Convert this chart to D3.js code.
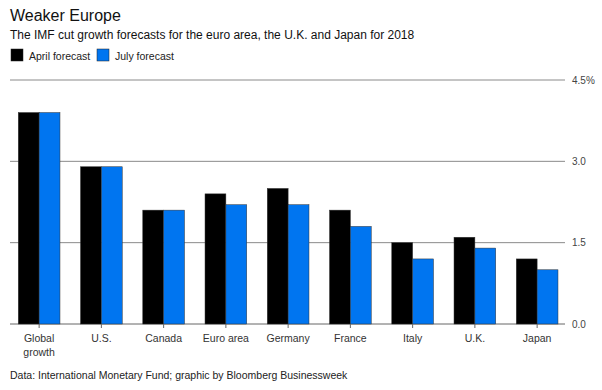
<!DOCTYPE html>
<html>
<head>
<meta charset="utf-8">
<script src="https://cdn.jsdelivr.net/npm/d3@7"></script>
<style>
  html, body { margin: 0; padding: 0; background: #fff; }
  svg { display: block; font-family: "Liberation Sans", Arial, Helvetica, sans-serif; }
</style>
</head>
<body>
<svg id="chart" width="602" height="390"></svg>
<script>
const categories = ["Global\ngrowth", "U.S.", "Canada", "Euro area", "Germany", "France", "Italy", "U.K.", "Japan"];
const seriesNames = ["April forecast", "July forecast"];
const aprilForecast = [3.9, 2.9, 2.1, 2.4, 2.5, 2.1, 1.5, 1.6, 1.2];
const julyForecast  = [3.9, 2.9, 2.1, 2.2, 2.2, 1.8, 1.2, 1.4, 1.0];
const yTicks = [0, 1.5, 3.0, 4.5];
const yTickLabels = ["0.0", "1.5", "3.0", "4.5%"];
const colors = ["#000000", "#0075f0"];

const svg = d3.select("#chart");

// Titles
svg.append("text").attr("x", 10).attr("y", 21).attr("font-size", 16).attr("fill", "#111").text("Weaker Europe");
svg.append("text").attr("x", 10).attr("y", 38.5).attr("font-size", 12).attr("fill", "#111")
  .text("The IMF cut growth forecasts for the euro area, the U.K. and Japan for 2018");

// Legend
const legendX = [11, 97];
seriesNames.forEach((name, i) => {
  svg.append("rect").attr("x", legendX[i]).attr("y", 49).attr("width", 12).attr("height", 12)
    .attr("fill", colors[i]).attr("stroke", "#222").attr("stroke-width", 0.5);
  svg.append("text").attr("x", legendX[i] + 18).attr("y", 59.5).attr("font-size", 10.5).attr("fill", "#222").text(name);
});

// Scales
const x = d3.scaleBand().domain(categories).range([8, 568.25]).paddingInner(0.33).paddingOuter(0.165);
const xs = d3.scaleBand().domain([0, 1]).range([0, x.bandwidth()]);
const y = d3.scaleLinear().domain([0, 4.5]).range([324, 80]);

// Gridlines
const gridLeft = 10, gridRight = 565;
svg.append("g").selectAll("line").data(yTicks).join("line")
  .attr("x1", gridLeft).attr("x2", gridRight)
  .attr("y1", d => y(d)).attr("y2", d => y(d))
  .attr("stroke", d => d === 0 ? "#666" : "#8a8a8a").attr("stroke-width", 1);

// Y labels
svg.append("g").selectAll("text").data(yTicks).join("text")
  .attr("x", 572).attr("y", d => y(d)).attr("dy", "0.35em")
  .attr("font-size", 10).attr("fill", "#444")
  .text((d, i) => yTickLabels[i]);

// Bars
const series = [aprilForecast, julyForecast];
series.forEach((vals, s) => {
  svg.append("g").selectAll("rect").data(vals).join("rect")
    .attr("x", (d, i) => x(categories[i]) + xs(s))
    .attr("width", xs.bandwidth())
    .attr("y", d => y(d))
    .attr("height", d => y(0) - y(d))
    .attr("fill", colors[s])
    .attr("stroke", "#333").attr("stroke-width", 0.5);
});

// X ticks and labels
const xAxis = svg.append("g");
categories.forEach(c => {
  const cx = x(c) + x.bandwidth() / 2;
  xAxis.append("line").attr("x1", cx).attr("x2", cx).attr("y1", 324).attr("y2", 328)
    .attr("stroke", "#666").attr("stroke-width", 1);
  const t = xAxis.append("text").attr("x", cx).attr("y", 342).attr("text-anchor", "middle")
    .attr("font-size", 10.5).attr("fill", "#333");
  c.split("\n").forEach((line, j) => {
    t.append("tspan").attr("x", cx).attr("dy", j === 0 ? 0 : 14).text(line);
  });
});

// Footer
svg.append("text").attr("x", 10).attr("y", 379).attr("font-size", 10.5).attr("fill", "#222")
  .text("Data: International Monetary Fund; graphic by Bloomberg Businessweek");
</script>
</body>
</html>
